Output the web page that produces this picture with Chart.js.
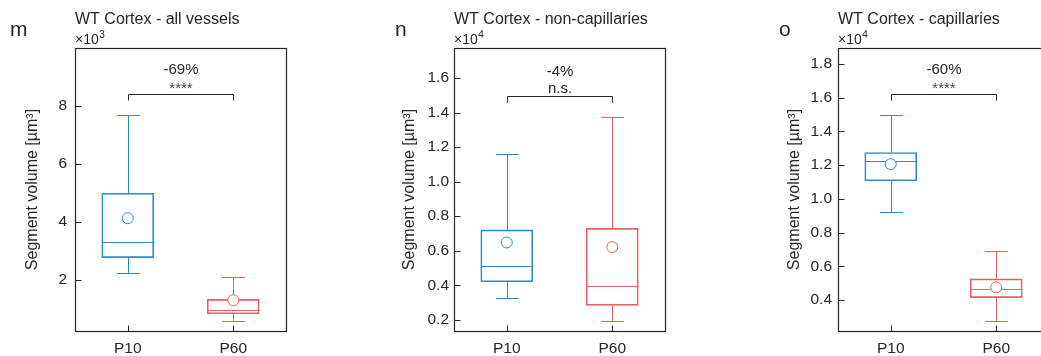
<!DOCTYPE html>
<html lang="en">
<head>
    <meta charset="UTF-8" />
    <title>WT Cortex segment volume</title>
    <style>
        body {
            margin: 0;
            background: #fff;
        }
        #wrap {
            position: relative;
            width: 1041px;
            height: 356px;
            overflow: hidden;
        }
        .panel {
            position: absolute;
            top: 0;
        }
    </style>
</head>
<body>
    <div id="wrap">
        <div class="panel" style="left:0px"><canvas id="chartM" width="350" height="356"></canvas></div>
        <div class="panel" style="left:350px"><canvas id="chartN" width="350" height="356"></canvas></div>
        <div class="panel" style="left:700px"><canvas id="chartO" width="360" height="356"></canvas></div>
    </div>

    <script src="https://cdn.jsdelivr.net/npm/chart.js"></script>
    <script>
        const groups = ['P10', 'P60'];

        // m: all vessels (x10^3 um^3)
        const mLow  = [2.24, 0.58];
        const mQ1   = [2.77, 0.83];
        const mMed  = [3.31, 0.98];
        const mQ3   = [4.99, 1.33];
        const mHigh = [7.69, 2.11];
        const mMean = [4.13, 1.30];
        const mTicks = [2, 4, 6, 8];

        // n: non-capillaries (x10^4 um^3)
        const nLow  = [0.329, 0.191];
        const nQ1   = [0.420, 0.283];
        const nMed  = [0.512, 0.398];
        const nQ3   = [0.721, 0.729];
        const nHigh = [1.160, 1.376];
        const nMean = [0.648, 0.621];
        const nTicks = [0.2, 0.4, 0.6, 0.8, 1.0, 1.2, 1.4, 1.6];

        // o: capillaries (x10^4 um^3)
        const oLow  = [0.923, 0.276];
        const oQ1   = [1.107, 0.414];
        const oMed  = [1.222, 0.463];
        const oQ3   = [1.275, 0.525];
        const oHigh = [1.499, 0.691];
        const oMean = [1.206, 0.475];
        const oTicks = [0.4, 0.6, 0.8, 1.0, 1.2, 1.4, 1.6, 1.8];

        const titles  = ['WT Cortex - all vessels', 'WT Cortex - non-capillaries', 'WT Cortex - capillaries'];
        const letters = ['m', 'n', 'o'];
        const exponents = ['3', '4', '4'];
        const changes = ['-69%', '-4%', '-60%'];
        const signif  = ['****', 'n.s.', '****'];

        const BLUE = '#2a8bd3';
        const RED = '#eb5f63';
        const INK = '#262626';
        const FONT = '"Liberation Sans", Arial, sans-serif';

        // whiskers, medians, frame, ticks and the comparison bracket
        const boxPlot = {
            id: 'boxPlot',
            beforeDatasetsDraw(chart) {
                const o = chart.options.plugins.boxPlot;
                const { ctx, scales: { x, y } } = chart;
                const half = 26, cap = 11.5;
                ctx.save();
                ctx.lineWidth = 1;
                groups.forEach((g, i) => {
                    const cx = Math.round(x.getPixelForValue(i)) + 0.5;
                    ctx.strokeStyle = o.colors[i];
                    ctx.beginPath();
                    // median
                    const ym = Math.round(y.getPixelForValue(o.med[i])) + 0.5;
                    ctx.moveTo(cx - half, ym); ctx.lineTo(cx + half, ym);
                    // upper whisker
                    const yh = Math.round(y.getPixelForValue(o.high[i])) + 0.5;
                    ctx.moveTo(cx, y.getPixelForValue(o.q3[i])); ctx.lineTo(cx, yh);
                    ctx.moveTo(cx - cap, yh); ctx.lineTo(cx + cap, yh);
                    // lower whisker
                    const yl = Math.round(y.getPixelForValue(o.low[i])) + 0.5;
                    ctx.moveTo(cx, y.getPixelForValue(o.q1[i])); ctx.lineTo(cx, yl);
                    ctx.moveTo(cx - cap, yl); ctx.lineTo(cx + cap, yl);
                    ctx.stroke();
                });
                ctx.restore();
            },
            afterDraw(chart) {
                const o = chart.options.plugins.boxPlot;
                const { ctx, chartArea: a, scales: { x, y } } = chart;
                ctx.save();
                ctx.strokeStyle = INK;
                ctx.lineWidth = 1.2;
                const L = Math.round(a.left) + 0.5, R = Math.round(a.right) + 0.5;
                const T = Math.round(a.top) + 0.5, B = Math.round(a.bottom) + 0.5;
                ctx.strokeRect(L, T, R - L, B - T);

                // inward ticks
                ctx.lineWidth = 1;
                ctx.beginPath();
                o.ticks.forEach(v => {
                    const ty = Math.round(y.getPixelForValue(v)) + 0.5;
                    ctx.moveTo(L, ty); ctx.lineTo(L + 6, ty);
                });
                groups.forEach((g, i) => {
                    const tx = Math.round(x.getPixelForValue(i)) + 0.5;
                    ctx.moveTo(tx, B); ctx.lineTo(tx, B - 6);
                });
                ctx.stroke();

                // bracket
                const x1 = Math.round(x.getPixelForValue(0)) + 0.5;
                const x2 = Math.round(x.getPixelForValue(1)) + 0.5;
                const by = Math.round(y.getPixelForValue(o.bracket)) + 0.5;
                ctx.beginPath();
                ctx.moveTo(x1, by + 6); ctx.lineTo(x1, by); ctx.lineTo(x2, by); ctx.lineTo(x2, by + 6);
                ctx.stroke();

                ctx.fillStyle = INK;
                ctx.textAlign = 'center';
                ctx.textBaseline = 'alphabetic';
                const mid = (x1 + x2) / 2;
                ctx.font = '15px ' + FONT;
                ctx.fillText(o.change, mid, by - 21);
                if (o.sig === 'n.s.') {
                    ctx.fillText(o.sig, mid, by - 4);
                } else {
                    ctx.fillStyle = '#444';
                    ctx.font = '15px ' + FONT;
                    ctx.fillText(o.sig, mid, by - 2);
                }

                // panel letter, title and exponent
                ctx.fillStyle = INK;
                ctx.textAlign = 'left';
                ctx.font = '21px ' + FONT;
                ctx.fillText(o.letter, o.letterX, 36);
                ctx.font = '16px ' + FONT;
                ctx.fillText(o.title, a.left, 24);
                ctx.font = '14px ' + FONT;
                ctx.fillText('\u00d710', a.left, 44);
                const w = ctx.measureText('\u00d710').width;
                ctx.font = '10px ' + FONT;
                ctx.fillText(o.exp, a.left + w + 0.5, 38);

                // axis title
                ctx.save();
                ctx.translate(o.titleX, (a.top + a.bottom) / 2);
                ctx.rotate(-Math.PI / 2);
                ctx.textAlign = 'center';
                ctx.textBaseline = 'middle';
                ctx.font = '16px ' + FONT;
                ctx.fillText('Segment volume [\u00b5m\u00b3]', 0, 0);
                ctx.restore();
                ctx.restore();
            }
        };

        function makePanel(id, k, low, q1, med, q3, high, mean, ticks, cfg) {
            const colors = [BLUE, RED];
            new Chart(document.getElementById(id), {
                data: {
                    labels: groups,
                    datasets: [
                        {
                            type: 'line',
                            data: mean,
                            showLine: false,
                            order: 0,
                            pointStyle: 'circle',
                            pointRadius: 5.5,
                            pointBorderWidth: 1,
                            pointBorderColor: colors,
                            pointBackgroundColor: '#fff'
                        },
                        {
                            type: 'bar',
                            data: q1.map((v, i) => [v, q3[i]]),
                            order: 1,
                            backgroundColor: 'rgba(0,0,0,0)',
                            borderColor: colors,
                            borderWidth: 1,
                            borderSkipped: false,
                            barThickness: 52
                        }
                    ]
                },
                options: {
                    responsive: false,
                    animation: false,
                    events: [],
                    layout: { padding: { left: 0, right: cfg.width - cfg.plotRight, top: 48, bottom: 0 } },
                    scales: {
                        x: {
                            type: 'category',
                            offset: true,
                            grid: { display: false, drawTicks: false },
                            border: { display: false },
                            ticks: { color: INK, padding: 8, font: { family: FONT, size: 15.5 } },
                            afterFit: s => { s.height = 25; }
                        },
                        y: {
                            min: cfg.yMin,
                            max: cfg.yMax,
                            grid: { display: false, drawTicks: false },
                            border: { display: false },
                            afterBuildTicks: s => { s.ticks = ticks.map(v => ({ value: v })); },
                            afterFit: s => { s.width = cfg.plotLeft; },
                            ticks: {
                                color: INK,
                                padding: cfg.tickPad,
                                font: { family: FONT, size: 15.5 },
                                callback: v => cfg.decimals ? v.toFixed(1) : String(v)
                            }
                        }
                    },
                    plugins: {
                        legend: { display: false },
                        tooltip: { enabled: false },
                        boxPlot: {
                            colors, low, q1, med, q3, high, ticks,
                            bracket: cfg.bracket,
                            change: changes[k],
                            sig: signif[k],
                            letter: letters[k],
                            letterX: cfg.letterX,
                            title: titles[k],
                            exp: exponents[k],
                            titleX: cfg.titleX
                        }
                    }
                },
                plugins: [boxPlot]
            });
        }

        makePanel('chartM', 0, mLow, mQ1, mMed, mQ3, mHigh, mMean, mTicks,
            { width: 350, plotLeft: 75, plotRight: 286, yMin: 0.24, yMax: 10, tickPad: 8, decimals: false, bracket: 8.4, titleX: 33, letterX: 10 });
        makePanel('chartN', 1, nLow, nQ1, nMed, nQ3, nHigh, nMean, nTicks,
            { width: 350, plotLeft: 104, plotRight: 315, yMin: 0.135, yMax: 1.774, tickPad: 5, decimals: true, bracket: 1.494, titleX: 60, letterX: 45 });
        makePanel('chartO', 2, oLow, oQ1, oMed, oQ3, oHigh, oMean, oTicks,
            { width: 360, plotLeft: 138, plotRight: 349, yMin: 0.216, yMax: 1.895, tickPad: 6, decimals: true, bracket: 1.622, titleX: 95, letterX: 79 });
    </script>
</body>
</html>
